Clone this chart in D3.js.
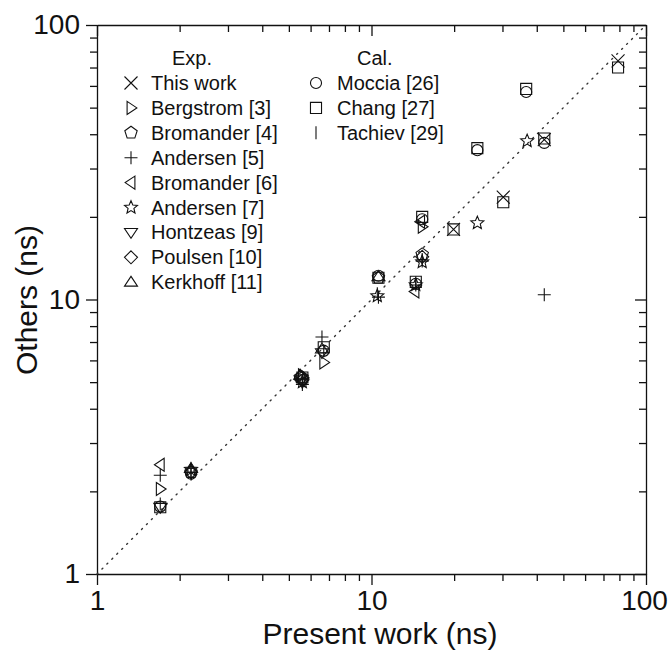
<!DOCTYPE html>
<html lang="en">
<head>
  <meta charset="UTF-8">
  <title>Present work vs Others</title>
  <script src="https://d3js.org/d3.v7.min.js"></script>
  <style>
    body { margin: 0; background: #fff; font-family: "Liberation Sans", Arial, sans-serif; }
    .axis path, .axis line { stroke: #111; stroke-width: 1.3; }
    .axis text { font-family: "Liberation Sans", Arial, sans-serif; font-size: 28px; fill: #111; }
    .axis-title { font-size: 30px; fill: #111; }
    .legend text { font-size: 20px; fill: #111; }
    .mark { fill: none; stroke: #111; stroke-width: 1.1; }
  </style>
</head>
<body>
  <svg width="669" height="655"></svg>

  <script>
    // [present work, others]
    const thisWork    = [[19.9, 18.0], [30.2, 23.6], [42.6, 38.2], [79.1, 74.0]];
    const bergstrom3  = [[1.7, 2.04], [5.6, 5.3], [6.7, 5.9], [15.3, 18.4]];
    const bromander4  = [[2.2, 2.35], [5.5, 5.2], [10.6, 12.0], [15.3, 14.6]];
    const andersen5   = [[1.7, 2.29], [2.2, 2.35], [5.6, 4.9], [6.6, 7.3], [10.6, 10.2], [14.5, 11.3], [15.3, 13.8], [42.6, 10.4]];
    const bromander6  = [[1.7, 2.5], [5.5, 5.1], [14.4, 10.7], [15.1, 19.2]];
    const andersen7   = [[2.2, 2.4], [5.6, 5.0], [10.5, 10.3], [14.5, 11.3], [15.3, 13.7], [24.3, 19.0], [36.9, 37.8]];
    const hontzeas9   = [[1.7, 1.75], [5.6, 5.0], [6.6, 6.4]];
    const poulsen10   = [[2.2, 2.35], [5.6, 5.2], [15.3, 14.3]];
    const kerkhoff11  = [[2.2, 2.42], [5.5, 5.3], [6.6, 6.6], [10.6, 12.1]];
    const moccia26    = [[1.7, 1.76], [2.2, 2.32], [5.6, 5.1], [6.7, 6.5], [10.6, 12.2], [14.5, 11.4], [15.3, 19.6], [24.3, 35.0], [36.6, 57.0], [42.6, 37.2]];
    const chang27     = [[1.7, 1.75], [5.6, 5.2], [6.7, 6.7], [10.6, 12.0], [14.5, 11.6], [15.3, 20.0], [19.9, 18.0], [24.3, 35.6], [30.2, 22.6], [36.6, 58.5], [42.6, 38.6], [79.1, 70.0]];
    const tachiev29   = [[1.7, 1.8], [2.2, 2.35], [5.6, 5.0], [6.7, 6.5], [10.5, 10.5], [14.5, 11.5], [15.3, 14.0]];

    const expNames = ["This work", "Bergstrom [3]", "Bromander [4]", "Andersen [5]", "Bromander [6]",
                      "Andersen [7]", "Hontzeas [9]", "Poulsen [10]", "Kerkhoff [11]"];
    const calNames = ["Moccia [26]", "Chang [27]", "Tachiev [29]"];

    const majorTicks = [1, 10, 100];
    const minorTicks = [2, 3, 4, 5, 6, 7, 8, 9, 20, 30, 40, 50, 60, 70, 80, 90];

    // marker shapes, s = half size
    const s = 6.5;
    function poly(n, r, rot, inner) {
      const pts = [];
      const k = inner ? n * 2 : n;
      for (let i = 0; i < k; i++) {
        const rr = inner && i % 2 ? r * inner : r;
        const a = rot + i * 2 * Math.PI / k;
        pts.push([rr * Math.cos(a), rr * Math.sin(a)]);
      }
      return "M" + pts.map(p => p[0].toFixed(2) + "," + p[1].toFixed(2)).join("L") + "Z";
    }
    const shapes = {
      x:       `M${-s},${-s}L${s},${s}M${-s},${s}L${s},${-s}`,
      right:   `M${-s * 0.6},${-s}L${s * 0.9},0L${-s * 0.6},${s}Z`,
      pent:    poly(5, s, -Math.PI / 2),
      plus:    `M${-s},0H${s}M0,${-s}V${s}`,
      left:    `M${s * 0.6},${-s}L${-s * 0.9},0L${s * 0.6},${s}Z`,
      star:    poly(5, s * 1.05, -Math.PI / 2, 0.45),
      down:    `M${-s},${-s * 0.6}L${s},${-s * 0.6}L0,${s * 0.9}Z`,
      diamond: `M0,${-s}L${s},0L0,${s}L${-s},0Z`,
      up:      `M${-s},${s * 0.6}L${s},${s * 0.6}L0,${-s * 0.9}Z`,
      circle:  d3.arc()({innerRadius: 0, outerRadius: s * 0.85, startAngle: 0, endAngle: 2 * Math.PI}),
      square:  `M${-s * 0.85},${-s * 0.85}H${s * 0.85}V${s * 0.85}H${-s * 0.85}Z`,
      bar:     `M0,${-s}V${s}`
    };

    const series = [
      {data: thisWork, shape: "x"}, {data: bergstrom3, shape: "right"}, {data: bromander4, shape: "pent"},
      {data: andersen5, shape: "plus"}, {data: bromander6, shape: "left"}, {data: andersen7, shape: "star"},
      {data: hontzeas9, shape: "down"}, {data: poulsen10, shape: "diamond"}, {data: kerkhoff11, shape: "up"},
      {data: moccia26, shape: "circle"}, {data: chang27, shape: "square"}, {data: tachiev29, shape: "bar"}
    ];

    const svg = d3.select("svg");
    const x = d3.scaleLog().domain([1, 100]).range([97, 646]);
    const y = d3.scaleLog().domain([1, 100]).range([574, 25]);

    // axes
    const axBottom = svg.append("g").attr("class", "axis").attr("transform", "translate(0,574)");
    axBottom.call(d3.axisBottom(x).tickValues(majorTicks).tickSize(11).tickSizeOuter(0).tickPadding(5).tickFormat(d3.format("d")));
    axBottom.append("g").call(d3.axisBottom(x).tickValues(minorTicks).tickSize(7).tickFormat("")).select(".domain").remove();
    axBottom.selectAll(".tick text").filter(d => d === 100).attr("dx", -2);

    const axLeft = svg.append("g").attr("class", "axis").attr("transform", "translate(97,0)");
    axLeft.call(d3.axisLeft(y).tickValues(majorTicks).tickSize(11).tickSizeOuter(0).tickPadding(6).tickFormat(d3.format("d")));
    axLeft.append("g").call(d3.axisLeft(y).tickValues(minorTicks).tickSize(7).tickFormat("")).select(".domain").remove();

    const axTop = svg.append("g").attr("class", "axis").attr("transform", "translate(0,25)");
    axTop.call(d3.axisBottom(x).tickValues(majorTicks).tickSize(11).tickSizeOuter(0).tickFormat(""));
    axTop.append("g").call(d3.axisBottom(x).tickValues(minorTicks).tickSize(7).tickFormat("")).select(".domain").remove();

    const axRight = svg.append("g").attr("class", "axis").attr("transform", "translate(646,0)");
    axRight.call(d3.axisLeft(y).tickValues(majorTicks).tickSize(11).tickSizeOuter(0).tickFormat(""));
    axRight.append("g").call(d3.axisLeft(y).tickValues(minorTicks).tickSize(7).tickFormat("")).select(".domain").remove();

    svg.selectAll(".axis .domain").attr("stroke-width", 1.6);

    // y = x reference line
    svg.append("line")
      .attr("x1", x(1)).attr("y1", y(1)).attr("x2", x(100)).attr("y2", y(100))
      .attr("stroke", "#333").attr("stroke-width", 1.4)
      .attr("stroke-dasharray", "1.2,5.8").attr("stroke-linecap", "round");

    // points
    const marks = svg.append("g");
    series.forEach(se => {
      marks.selectAll(null)
        .data(se.data)
        .enter()
        .append("path")
          .attr("class", "mark")
          .attr("d", shapes[se.shape])
          .attr("transform", d => `translate(${x(d[0])},${y(d[1])})`);
    });

    // legend
    const legend = svg.append("g").attr("class", "legend");
    legend.append("text").attr("x", 172).attr("y", 65).text("Exp.");
    legend.append("text").attr("x", 357).attr("y", 65).text("Cal.");
    expNames.forEach((name, i) => {
      const yy = 83 + i * 24.9;
      legend.append("path").attr("class", "mark").attr("d", shapes[series[i].shape])
        .attr("transform", `translate(131,${yy})`);
      legend.append("text").attr("x", 151).attr("y", yy + 7).text(name);
    });
    calNames.forEach((name, i) => {
      const yy = 83 + i * 24.9;
      legend.append("path").attr("class", "mark").attr("d", shapes[series[9 + i].shape])
        .attr("transform", `translate(316,${yy})`);
      legend.append("text").attr("x", 337).attr("y", yy + 7).text(name);
    });

    // axis titles
    svg.append("text")
      .attr("class", "axis-title")
      .attr("x", 380).attr("y", 644)
      .attr("text-anchor", "middle")
      .text("Present work (ns)");

    svg.append("text")
      .attr("class", "axis-title")
      .attr("transform", "translate(37,300) rotate(-90)")
      .attr("text-anchor", "middle")
      .text("Others (ns)");
  </script>
</body>
</html>
